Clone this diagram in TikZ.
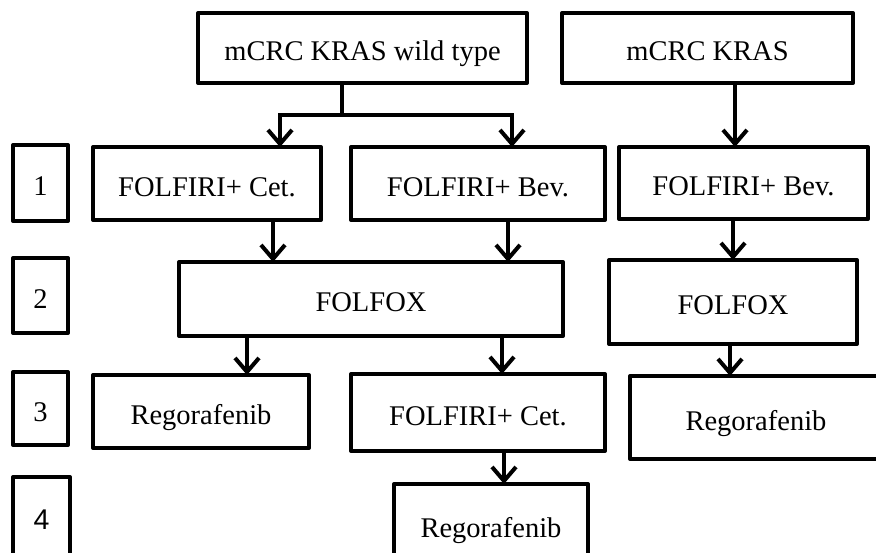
\documentclass[tikz,border=0pt]{standalone}
\usepackage{fontspec}
\setmainfont{Liberation Serif}
\newfontfamily\sansf{Liberation Sans}
\usetikzlibrary{arrows.meta}
\begin{document}
\begin{tikzpicture}[x=1pt,y=-1pt,
  box/.style={draw, line width=4pt, line join=round, inner sep=0pt, outer sep=0pt,
    text height=25pt, text depth=0pt,
    font=\fontsize{28.5}{34}\selectfont},
  conn/.style={line width=4pt},
  arr/.style={line width=4pt, -{Straight Barb[length=14pt,width=24pt]}}]
\useasboundingbox (0,0) rectangle (876,552);
\clip (0,0) rectangle (876,552);
% top boxes
\node[box, minimum width=329pt, minimum height=70pt] (wt) at (362.5,48) {mCRC KRAS wild type};
\node[box, minimum width=291pt, minimum height=70pt] (kras) at (707.5,48) {mCRC KRAS};
% line numbers
\node[box, minimum width=55pt, minimum height=76pt] (n1) at (40.5,183) {1};
\node[box, minimum width=55pt, minimum height=75pt] (n2) at (40.5,295.5) {2};
\node[box, minimum width=55pt, minimum height=73pt] (n3) at (40.5,408.5) {3};
\node[box, minimum width=57pt, minimum height=80pt] (n4) at (41.5,517) {\sansf 4};
% row 1
\node[box, minimum width=228pt, minimum height=73pt] (cet1) at (207,183.5) {FOLFIRI+ Cet.};
\node[box, minimum width=254pt, minimum height=73pt] (bev1) at (478,183.5) {FOLFIRI+ Bev.};
\node[box, minimum width=249pt, minimum height=72pt] (bev2) at (743.5,183) {FOLFIRI+ Bev.};
% row 2
\node[box, minimum width=384pt, minimum height=74pt] (fox1) at (371,299) {FOLFOX};
\node[box, minimum width=248pt, minimum height=84pt] (fox2) at (733,302) {FOLFOX};
% row 3
\node[box, minimum width=216pt, minimum height=73pt] (reg1) at (201,411.5) {Regorafenib};
\node[box, minimum width=254pt, minimum height=77pt] (cet2) at (478,412.5) {FOLFIRI+ Cet.};
\node[box, minimum width=252pt, minimum height=83pt] (reg2) at (756,417.5) {Regorafenib};
% row 4
\node[box, minimum width=194pt, minimum height=82pt] (reg3) at (491,525) {Regorafenib};
% connector coordinates
\coordinate (j) at (342,115);
\coordinate (jl) at (280,115);
\coordinate (jr) at (512,115);
\coordinate (xk) at (735,0);
\coordinate (xa) at (273,0);
\coordinate (xb) at (508,0);
\coordinate (xc) at (733,0);
\coordinate (xd) at (247,0);
\coordinate (xe) at (502,0);
\coordinate (xf) at (730,0);
\coordinate (xg) at (504,0);
% connectors
\draw[conn] (wt.south -| j) -- (j);
\draw[conn, line cap=rect] (jl) -- (jr);
\draw[arr] (jl) -- (cet1.north -| jl);
\draw[arr] (jr) -- (bev1.north -| jr);
\draw[arr] (kras.south -| xk) -- (bev2.north -| xk);
\draw[arr] (cet1.south -| xa) -- (fox1.north -| xa);
\draw[arr] (bev1.south -| xb) -- (fox1.north -| xb);
\draw[arr] (bev2.south -| xc) -- (fox2.north -| xc);
\draw[arr] (fox1.south -| xd) -- (reg1.north -| xd);
\draw[arr] (fox1.south -| xe) -- (cet2.north -| xe);
\draw[arr] (fox2.south -| xf) -- (reg2.north -| xf);
\draw[arr] (cet2.south -| xg) -- (reg3.north -| xg);
\end{tikzpicture}
\end{document}
